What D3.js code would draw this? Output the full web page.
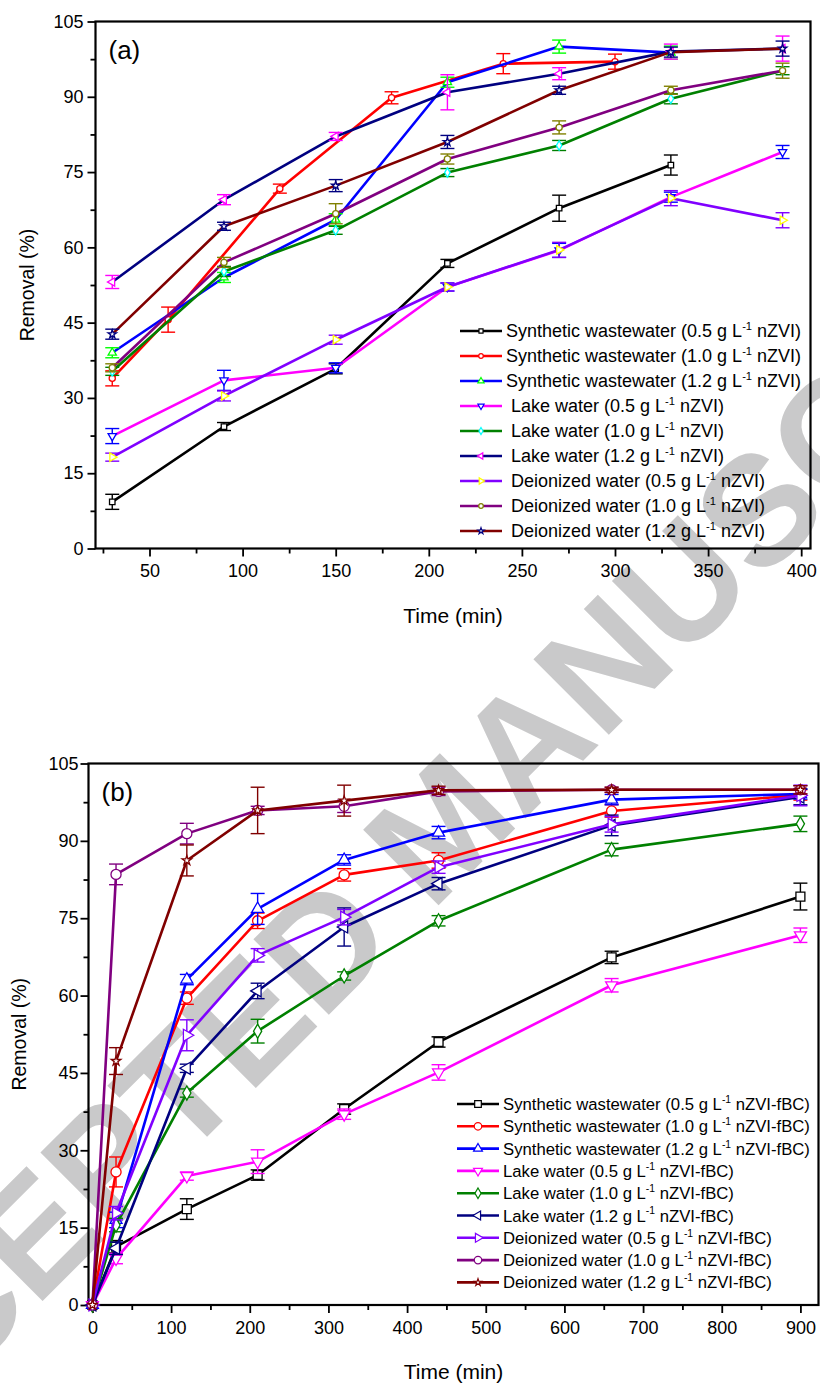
<!DOCTYPE html>
<html>
<head>
<meta charset="utf-8">
<script src="https://cdn.jsdelivr.net/npm/d3@7"></script>
<style>
  body { margin: 0; background: #fff; }
  svg { display: block; }
  text { font-family: "Liberation Sans", Arial, Helvetica, sans-serif; }
</style>
</head>
<body>
<svg id="chart" width="820" height="1383"></svg>
<script>
// ---------- Panel (a): nZVI ----------
const timeA = [30, 90, 150, 210, 270, 330, 390];
const timeA6 = [30, 90, 150, 210, 270, 330];
const timeRedA = [30, 60, 120, 180, 240, 300];

const synth05A = [9.3, 24.3, 35.8, 56.8, 67.8, 76.4];
const synth05AErr = [1.5, 0.8, 1.0, 0.8, 2.6, 2.0];
const synth10A = [33.9, 45.6, 71.7, 89.8, 96.6, 97.0];
const synth10AErr = [1.5, 2.5, 0.9, 1.2, 2.0, 1.5];
const synth12A = [39.0, 54.0, 65.5, 92.9, 100.0, 98.8];
const synth12AErr = [1.0, 1.0, 1.2, 1.0, 1.3, 1.3];
const lake05A = [22.4, 33.5, 36.0, 52.1, 59.4, 70.0, 79.0];
const lake05AErr = [1.5, 2.0, 1.0, 0.8, 1.4, 1.0, 1.3];
const lake10A = [35.3, 55.2, 63.4, 74.9, 80.3, 89.6, 95.2];
const lake10AErr = [0.8, 1.0, 0.8, 0.8, 1.0, 1.0, 0.8];
const lake12A = [53.1, 69.5, 82.1, 90.9, 94.6, 99.0, 99.6];
const lake12AErr = [1.3, 1.0, 0.8, 3.5, 1.2, 1.5, 2.5];
const deio05A = [18.2, 30.4, 41.6, 52.1, 59.5, 69.8, 65.4];
const deio05AErr = [0.8, 1.0, 0.9, 0.8, 1.5, 1.5, 1.5];
const deio10A = [36.0, 57.0, 66.7, 77.6, 83.9, 91.3, 95.2];
const deio10AErr = [0.8, 1.0, 2.0, 1.0, 1.3, 0.8, 1.5];
const deio12A = [42.7, 64.2, 72.3, 81.0, 91.3, 98.9, 99.6];
const deio12AErr = [1.0, 0.8, 1.2, 1.3, 0.8, 1.0, 1.5];

const legendA = [
  ["Synthetic wastewater (0.5 g L", " nZVI)"],
  ["Synthetic wastewater (1.0 g L", " nZVI)"],
  ["Synthetic wastewater (1.2 g L", " nZVI)"],
  [" Lake water (0.5 g L", " nZVI)"],
  [" Lake water (1.0 g L", " nZVI)"],
  [" Lake water (1.2 g L", " nZVI)"],
  [" Deionized water (0.5 g L", " nZVI)"],
  [" Deionized water (1.0 g L", " nZVI)"],
  [" Deionized water (1.2 g L", " nZVI)"]
];

// ---------- Panel (b): nZVI-fBC ----------
const timeB = [0, 30, 120, 210, 320, 440, 660, 900];

const synth05B = [0, 11.3, 18.6, 25.2, 38.0, 51.0, 67.4, 79.2];
const synth05BErr = [0, 1.2, 2.0, 1.0, 1.0, 1.0, 1.2, 2.6];
const synth10B = [0, 25.8, 59.5, 74.5, 83.4, 86.2, 95.8, 98.9];
const synth10BErr = [0, 2.9, 1.2, 1.5, 1.2, 1.5, 1.2, 1.0];
const synth12B = [0, 16.5, 63.1, 76.8, 86.3, 91.6, 98.0, 99.1];
const synth12BErr = [0, 1.5, 1.0, 3.0, 1.0, 1.2, 1.0, 1.0];
const lake05B = [0, 9.0, 25.0, 27.8, 37.0, 45.1, 62.0, 71.7];
const lake05BErr = [0, 1.0, 0.8, 2.3, 1.0, 1.5, 1.3, 1.4];
const lake10B = [0, 15.5, 41.1, 53.1, 63.8, 74.5, 88.3, 93.3];
const lake10BErr = [0, 1.3, 0.8, 2.3, 0.8, 1.0, 1.2, 1.5];
const lake12B = [0, 11.0, 45.9, 60.9, 73.3, 81.7, 93.0, 98.5];
const lake12BErr = [0, 1.2, 0.8, 1.5, 3.7, 1.2, 2.0, 1.5];
const deio05B = [0, 17.8, 52.3, 67.8, 75.2, 84.9, 93.2, 98.8];
const deio05BErr = [0, 1.3, 3.0, 1.3, 1.5, 1.2, 1.5, 2.0];
const deio10B = [0, 83.5, 91.4, 95.9, 96.7, 99.6, 99.9, 99.9];
const deio10BErr = [0, 2.0, 2.0, 0.8, 1.2, 0.8, 0.5, 0.8];
const deio12B = [0, 47.3, 86.2, 95.9, 97.8, 99.8, 99.9, 99.9];
const deio12BErr = [0, 2.6, 3.0, 4.5, 3.0, 0.8, 0.5, 0.8];

const legendB = [
  ["Synthetic wastewater (0.5 g L", " nZVI-fBC)"],
  ["Synthetic wastewater (1.0 g L", " nZVI-fBC)"],
  ["Synthetic wastewater (1.2 g L", " nZVI-fBC)"],
  ["Lake water (0.5 g L", " nZVI-fBC)"],
  ["Lake water (1.0 g L", " nZVI-fBC)"],
  ["Lake water (1.2 g L", " nZVI-fBC)"],
  ["Deionized water (0.5 g L", " nZVI-fBC)"],
  ["Deionized water (1.0 g L", " nZVI-fBC)"],
  ["Deionized water (1.2 g L", " nZVI-fBC)"]
];

const yTicks = [0, 15, 30, 45, 60, 75, 90, 105];
const xTicksA = [50, 100, 150, 200, 250, 300, 350, 400];
const xTicksB = [0, 100, 200, 300, 400, 500, 600, 700, 800, 900];

// ---------- Styles ----------
const lineColors = ["#000000", "#ff0000", "#0000ff", "#ff00ff", "#008000", "#000080", "#8000ff", "#800080", "#800000"];
// marker shape: [symbol, rotation]
const shapes = [
  [d3.symbolSquare, 0], [d3.symbolCircle, 0], [d3.symbolTriangle, 0],
  [d3.symbolTriangle, 180], [d3.symbolDiamond, 0], [d3.symbolTriangle, -90],
  [d3.symbolTriangle, 90], [d3.symbolCircle, 0], [d3.symbolStar, 0]
];
const markerColorsA = ["#000000", "#ff0000", "#00ff00", "#0000ff", "#00ffff", "#ff00ff", "#ffff00", "#808000", "#000080"];
const errColorsA = ["#000000", "#ff0000", "#00ff00", "#0000ff", "#008000", "#ff00ff", "#8000ff", "#808000", "#000080"];

const seriesA = [
  [timeA6, synth05A, synth05AErr], [timeRedA, synth10A, synth10AErr], [timeA6, synth12A, synth12AErr],
  [timeA, lake05A, lake05AErr], [timeA, lake10A, lake10AErr], [timeA, lake12A, lake12AErr],
  [timeA, deio05A, deio05AErr], [timeA, deio10A, deio10AErr], [timeA, deio12A, deio12AErr]
].map(([t, v, e], i) => ({
  pts: t.map((x, j) => ({ x, y: v[j], e: e[j] })),
  line: lineColors[i], marker: markerColorsA[i], err: errColorsA[i],
  shape: shapes[i], legend: legendA[i]
}));

const seriesB = [
  [synth05B, synth05BErr], [synth10B, synth10BErr], [synth12B, synth12BErr],
  [lake05B, lake05BErr], [lake10B, lake10BErr], [lake12B, lake12BErr],
  [deio05B, deio05BErr], [deio10B, deio10BErr], [deio12B, deio12BErr]
].map(([v, e], i) => ({
  pts: timeB.map((x, j) => ({ x, y: v[j], e: e[j] })),
  line: lineColors[i], marker: lineColors[i], err: lineColors[i],
  shape: shapes[i], legend: legendB[i]
}));

const svg = d3.select("#chart");

// Background watermark
svg.append("text")
  .attr("transform", "translate(442,826) rotate(-45)")
  .attr("text-anchor", "middle")
  .attr("dominant-baseline", "central")
  .style("font-size", "155px")
  .style("font-weight", "bold")
  .attr("fill", "#c9c9ca")
  .text("ACCEPTED MANUSCRIPT");

function drawPanel(cfg) {
  const { left, right, top, bottom, xDomain, xTicks, xMinor, series, tag, legendX, legendY, legendDy, legendFont, markerScale } = cfg;
  const x = d3.scaleLinear().domain(xDomain).range([left, right]);
  const y = d3.scaleLinear().domain([0, 105]).range([bottom, top]);
  const g = svg.append("g");

  // Axes
  const xAxis = d3.axisBottom(x).tickValues(xTicks).tickSize(8).tickPadding(8).tickFormat(d3.format("d"));
  const xMinorAxis = d3.axisBottom(x).tickValues(xMinor).tickSize(5).tickFormat("");
  const yAxis = d3.axisLeft(y).tickValues(yTicks).tickSize(8).tickPadding(cfg.yPad).tickFormat(d3.format("d"));
  const yMinorAxis = d3.axisLeft(y).tickValues(d3.range(7.5, 105, 15)).tickSize(5).tickFormat("");

  [[xAxis, `translate(0,${bottom})`], [xMinorAxis, `translate(0,${bottom})`],
   [yAxis, `translate(${left},0)`], [yMinorAxis, `translate(${left},0)`]].forEach(([ax, tr]) => {
    const a = g.append("g").attr("transform", tr).call(ax);
    a.select(".domain").remove();
    a.selectAll("line").attr("stroke", "#000").attr("stroke-width", 1.8);
    a.selectAll("text").style("font-size", "18px").attr("fill", "#000");
  });

  // Frame
  g.append("rect")
    .attr("x", left).attr("y", top).attr("width", right - left).attr("height", bottom - top)
    .attr("fill", "none").attr("stroke", "#000").attr("stroke-width", 2.2);

  const line = d3.line().x(d => x(d.x)).y(d => y(d.y));

  series.forEach(s => {
    const sg = g.append("g");
    sg.append("path").datum(s.pts).attr("d", line)
      .attr("fill", "none").attr("stroke", s.line).attr("stroke-width", 2.6).attr("stroke-linejoin", "round");
    // error bars
    s.pts.filter(p => p.e > 0).forEach(p => {
      const cx = x(p.x), y1 = y(p.y + p.e), y2 = y(p.y - p.e);
      sg.append("line").attr("x1", cx).attr("x2", cx).attr("y1", y1).attr("y2", y2)
        .attr("stroke", s.err).attr("stroke-width", 1.4);
      [y1, y2].forEach(yy => sg.append("line")
        .attr("x1", cx - 7).attr("x2", cx + 7).attr("y1", yy).attr("y2", yy)
        .attr("stroke", s.err).attr("stroke-width", 1.4));
    });
    // markers
    const sym = d3.symbol().type(s.shape[0]).size(markerScale(s.shape[0]));
    sg.selectAll("path.m").data(s.pts).join("path").attr("class", "m")
      .attr("d", sym)
      .attr("transform", d => `translate(${x(d.x)},${y(d.y)}) rotate(${s.shape[1]})`)
      .attr("fill", "#fff").attr("stroke", s.marker).attr("stroke-width", 1.3);
  });

  // Legend
  const lg = g.append("g");
  series.forEach((s, i) => {
    const ly = legendY + i * legendDy;
    lg.append("line").attr("x1", legendX).attr("x2", legendX + 42).attr("y1", ly).attr("y2", ly)
      .attr("stroke", s.line).attr("stroke-width", 2.6);
    const sym = d3.symbol().type(s.shape[0]).size(markerScale(s.shape[0]) * 0.55);
    lg.append("path").attr("d", sym)
      .attr("transform", `translate(${legendX + 21},${ly}) rotate(${s.shape[1]})`)
      .attr("fill", "#fff").attr("stroke", s.marker).attr("stroke-width", 1.2);
    const t = lg.append("text").attr("x", legendX + 46).attr("y", ly + legendFont * 0.36)
      .style("font-size", legendFont + "px").attr("fill", "#000")
      .style("white-space", "pre");
    t.append("tspan").text(s.legend[0]);
    t.append("tspan").attr("dy", -legendFont * 0.42).style("font-size", (legendFont * 0.62) + "px").text("-1");
    t.append("tspan").attr("dy", legendFont * 0.42).text(s.legend[1]);
  });

  // Panel tag
  g.append("text").attr("x", left + 13).attr("y", top + 37).style("font-size", "26px").text(tag);

  // Axis titles
  g.append("text").attr("x", (left + right) / 2).attr("y", bottom + 74)
    .attr("text-anchor", "middle").style("font-size", "21px").text("Time (min)");
  g.append("text")
    .attr("transform", `translate(${cfg.yTitleX},${(top + bottom) / 2}) rotate(-90)`)
    .attr("text-anchor", "middle").style("font-size", "19.5px").text("Removal (%)");
}

drawPanel({
  left: 95.5, right: 810.5, top: 21.5, bottom: 548.5,
  xDomain: [21, 405], xTicks: xTicksA, xMinor: [25, 75, 125, 175, 225, 275, 325, 375],
  series: seriesA, tag: "(a)", yPad: 4,
  legendX: 460, legendY: 331, legendDy: 25, legendFont: 18,
  yTitleX: 34,
  markerScale: sh => sh === d3.symbolStar ? 22 : sh === d3.symbolTriangle ? 30 : sh === d3.symbolDiamond ? 26 : 30
});

drawPanel({
  left: 88.5, right: 818.5, top: 763.5, bottom: 1305,
  xDomain: [-5, 923], xTicks: xTicksB, xMinor: [50, 150, 250, 350, 450, 550, 650, 750, 850],
  series: seriesB, tag: "(b)", yPad: 2,
  legendX: 457, legendY: 1104, legendDy: 22.3, legendFont: 16.7,
  yTitleX: 26,
  markerScale: sh => sh === d3.symbolStar ? 28 : sh === d3.symbolTriangle ? 62 : sh === d3.symbolDiamond ? 58 : 80
});
</script>
</body>
</html>
